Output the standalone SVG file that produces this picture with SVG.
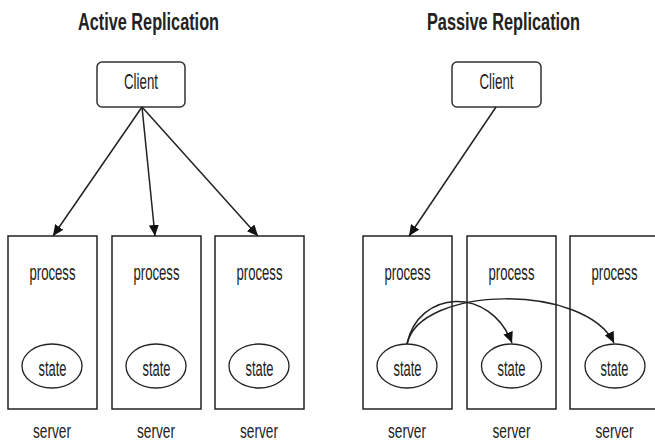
<svg xmlns="http://www.w3.org/2000/svg" width="655" height="443" viewBox="0 0 655 443">
<style>
.t{font-family:"Liberation Sans",Arial,sans-serif;font-size:22px;fill:#222;text-anchor:middle}
.s{font-family:"Liberation Sans",Arial,sans-serif;font-size:21px;fill:#222;text-anchor:middle}
.h{font-family:"Liberation Sans",Arial,sans-serif;font-size:23px;font-weight:bold;fill:#222;text-anchor:middle}
.box{fill:#fff;stroke:#222;stroke-width:1.5}
.cl{fill:#fff;stroke:#333;stroke-width:1.5}
.st{fill:#fff;stroke:#222;stroke-width:1.3}
.ln{fill:none;stroke:#222;stroke-width:1.5}
</style>
<defs>
<marker id="ah" markerUnits="userSpaceOnUse" markerWidth="12" markerHeight="10" refX="11" refY="5" orient="auto">
<path d="M0,0 L11,5 L0,10 Z" fill="#111"/>
</marker>
</defs>
<g id="titles">
<text class="h" x="148.5" y="29.5" textLength="141" lengthAdjust="spacingAndGlyphs">Active Replication</text>
<text class="h" x="503.5" y="29.5" textLength="153" lengthAdjust="spacingAndGlyphs">Passive Replication</text>
</g>
<g id="client-active"><rect class="cl" x="97" y="62" width="88" height="45" rx="5"/><text class="t" x="141" y="88.5" textLength="34" lengthAdjust="spacingAndGlyphs">Client</text></g>
<g id="client-passive"><rect class="cl" x="452" y="62" width="89" height="45" rx="5"/><text class="t" x="496.5" y="88.5" textLength="34" lengthAdjust="spacingAndGlyphs">Client</text></g>
<g id="a-server1"><rect class="box" x="8" y="236" width="89" height="173"/><text class="t" x="52.5" y="280" textLength="46" lengthAdjust="spacingAndGlyphs">process</text><ellipse class="st" cx="52" cy="366" rx="30" ry="22"/><text class="t" x="52.5" y="376" textLength="28" lengthAdjust="spacingAndGlyphs">state</text><text class="s" x="52" y="437.5" textLength="38" lengthAdjust="spacingAndGlyphs">server</text></g>
<g id="a-server2"><rect class="box" x="112" y="236" width="89" height="173"/><text class="t" x="156.5" y="280" textLength="46" lengthAdjust="spacingAndGlyphs">process</text><ellipse class="st" cx="156" cy="366" rx="30" ry="22"/><text class="t" x="156.5" y="376" textLength="28" lengthAdjust="spacingAndGlyphs">state</text><text class="s" x="156" y="437.5" textLength="38" lengthAdjust="spacingAndGlyphs">server</text></g>
<g id="a-server3"><rect class="box" x="215" y="236" width="89" height="173"/><text class="t" x="259.5" y="280" textLength="46" lengthAdjust="spacingAndGlyphs">process</text><ellipse class="st" cx="259" cy="366" rx="30" ry="22"/><text class="t" x="259.5" y="376" textLength="28" lengthAdjust="spacingAndGlyphs">state</text><text class="s" x="259" y="437.5" textLength="38" lengthAdjust="spacingAndGlyphs">server</text></g>
<g id="p-server1"><rect class="box" x="363" y="236" width="89" height="173"/><text class="t" x="407.5" y="280" textLength="46" lengthAdjust="spacingAndGlyphs">process</text><ellipse class="st" cx="407" cy="366" rx="30" ry="22"/><text class="t" x="407.5" y="376" textLength="28" lengthAdjust="spacingAndGlyphs">state</text><text class="s" x="407" y="437.5" textLength="38" lengthAdjust="spacingAndGlyphs">server</text></g>
<g id="p-server2"><rect class="box" x="467" y="236" width="89" height="173"/><text class="t" x="511.5" y="280" textLength="46" lengthAdjust="spacingAndGlyphs">process</text><ellipse class="st" cx="511.5" cy="366" rx="30" ry="22"/><text class="t" x="511.5" y="376" textLength="28" lengthAdjust="spacingAndGlyphs">state</text><text class="s" x="511.5" y="437.5" textLength="38" lengthAdjust="spacingAndGlyphs">server</text></g>
<g id="p-server3"><rect class="box" x="570" y="236" width="89" height="173"/><text class="t" x="614.5" y="280" textLength="46" lengthAdjust="spacingAndGlyphs">process</text><ellipse class="st" cx="615" cy="366" rx="30" ry="22"/><text class="t" x="614.5" y="376" textLength="28" lengthAdjust="spacingAndGlyphs">state</text><text class="s" x="614.5" y="437.5" textLength="38" lengthAdjust="spacingAndGlyphs">server</text></g>
<g id="connectors">
<line class="ln" x1="142" y1="107" x2="53" y2="236" marker-end="url(#ah)"/>
<line class="ln" x1="142" y1="107" x2="155" y2="236" marker-end="url(#ah)"/>
<line class="ln" x1="142" y1="107" x2="258" y2="236" marker-end="url(#ah)"/>
<line class="ln" x1="496" y1="107" x2="409" y2="236" marker-end="url(#ah)"/>
<path class="ln" d="M407,344 C418,290 490,285 512,343" marker-end="url(#ah)"/>
<path class="ln" d="M407,344 C420,285 585,283 614,343" marker-end="url(#ah)"/>
</g>
</svg>
